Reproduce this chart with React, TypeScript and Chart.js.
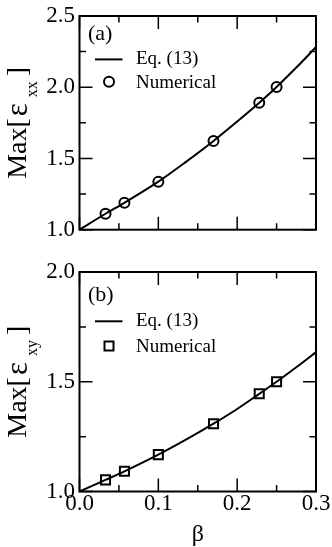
import React, { useEffect, useRef } from "react";
import { Chart, registerables } from "chart.js";

Chart.register(...registerables);

// ---------------- data ----------------
const betaTicks = [0, 0.1, 0.2, 0.3];
const betaMinorTicks = [0.05, 0.15, 0.25];

const numBeta = [0.033, 0.057, 0.1, 0.17, 0.228, 0.25];
const numXX = [1.112, 1.189, 1.337, 1.623, 1.891, 2.002];
const numXY = [1.053, 1.092, 1.168, 1.309, 1.445, 1.5];

const eqBeta = [0, 0.033, 0.057, 0.1, 0.135, 0.17, 0.2, 0.228, 0.25, 0.275, 0.3];
const eqXX = [1.0, 1.112, 1.189, 1.337, 1.476, 1.623, 1.759, 1.891, 2.002, 2.138, 2.282];
const eqXY = [1.0, 1.053, 1.092, 1.168, 1.236, 1.309, 1.376, 1.445, 1.5, 1.566, 1.635];

const yTicksA = [1.0, 1.5, 2.0, 2.5];
const yMinorA = [1.25, 1.75, 2.25];
const yTicksB = [1.0, 1.5, 2.0];
const yMinorB = [1.25, 1.75];

const legendLabels = ["Eq. (13)", "Numerical"];
const panelLabels = ["(a)", "(b)"];
const xTitle = "β";

const SERIF = '"Liberation Serif", "Times New Roman", serif';

type Panel = {
  yMin: number;
  yMax: number;
  yMajor: number[];
  yMinor: number[];
  eq: number[];
  num: number[];
  sub: string;
  label: string;
  marker: "circle" | "rect";
  canvasTop: number;
  canvasH: number;
  padTop: number;
  padBottom: number;
  xAxisH: number;
  showX: boolean;
  legend: { labelY: number; lineY: number; markerY: number };
};

const panels: Panel[] = [
  {
    yMin: 1.0,
    yMax: 2.5,
    yMajor: yTicksA,
    yMinor: yMinorA,
    eq: eqXX,
    num: numXX,
    sub: "xx",
    label: panelLabels[0],
    marker: "circle",
    canvasTop: 0,
    canvasH: 250,
    padTop: 9.3,
    padBottom: 20.3,
    xAxisH: 0,
    showX: false,
    legend: { labelY: 24.2, lineY: 43.4, markerY: 65.7 },
  },
  {
    yMin: 1.0,
    yMax: 2.0,
    yMajor: yTicksB,
    yMinor: yMinorB,
    eq: eqXY,
    num: numXY,
    sub: "xy",
    label: panelLabels[1],
    marker: "rect",
    canvasTop: 250,
    canvasH: 297,
    padTop: 22,
    padBottom: 0,
    xAxisH: 55.5,
    showX: true,
    legend: { labelY: 29, lineY: 49.3, markerY: 74 },
  },
];

function drawYTitle(ctx: CanvasRenderingContext2D, cx: number, cy: number, sub: string) {
  ctx.save();
  ctx.translate(cx, cy);
  ctx.rotate(-Math.PI / 2);
  ctx.fillStyle = "#000";
  ctx.textAlign = "left";
  ctx.textBaseline = "alphabetic";
  const parts = [
    { t: "Max[", f: `28px ${SERIF}`, dy: 0, gap: 2 },
    { t: "ε", f: `31px ${SERIF}`, dy: 1, gap: 6 },
    { t: sub, f: `16px ${SERIF}`, dy: 10.5, gap: 5 },
    { t: "]", f: `28px ${SERIF}`, dy: 0, gap: 0 },
  ];
  let total = 0;
  const widths = parts.map((p) => {
    ctx.font = p.f;
    const w = ctx.measureText(p.t).width;
    total += w + p.gap;
    return w;
  });
  let x = -total / 2;
  parts.forEach((p, i) => {
    ctx.font = p.f;
    ctx.fillText(p.t, x, p.dy);
    x += widths[i] + p.gap;
  });
  ctx.restore();
}

function makeDecor(panel: Panel) {
  return {
    id: "decor",
    afterDraw(chart: any) {
      const ctx: CanvasRenderingContext2D = chart.ctx;
      const { left, right, top, bottom } = chart.chartArea;
      const xs = chart.scales.x;
      const ys = chart.scales.y;
      ctx.save();
      ctx.strokeStyle = "#000";
      ctx.fillStyle = "#000";

      // inside ticks
      ctx.lineWidth = 1.5;
      ctx.beginPath();
      const major = 13;
      const minor = 6.5;
      betaTicks.forEach((v) => {
        const px = xs.getPixelForValue(v);
        ctx.moveTo(px, bottom);
        ctx.lineTo(px, bottom - major);
        ctx.moveTo(px, top);
        ctx.lineTo(px, top + major);
      });
      betaMinorTicks.forEach((v) => {
        const px = xs.getPixelForValue(v);
        ctx.moveTo(px, bottom);
        ctx.lineTo(px, bottom - minor);
        ctx.moveTo(px, top);
        ctx.lineTo(px, top + minor);
      });
      panel.yMajor.forEach((v) => {
        const py = ys.getPixelForValue(v);
        ctx.moveTo(left, py);
        ctx.lineTo(left + major, py);
        ctx.moveTo(right, py);
        ctx.lineTo(right - major, py);
      });
      panel.yMinor.forEach((v) => {
        const py = ys.getPixelForValue(v);
        ctx.moveTo(left, py);
        ctx.lineTo(left + minor, py);
        ctx.moveTo(right, py);
        ctx.lineTo(right - minor, py);
      });
      ctx.stroke();

      // frame
      ctx.lineWidth = 2;
      ctx.strokeRect(left, top, right - left, bottom - top);

      // panel label
      ctx.font = `22px ${SERIF}`;
      ctx.textAlign = "left";
      ctx.textBaseline = "alphabetic";
      ctx.fillText(panel.label, left + 8.5, top + panel.legend.labelY);

      // legend
      const lg = panel.legend;
      ctx.lineWidth = 2;
      ctx.beginPath();
      ctx.moveTo(left + 15.5, top + lg.lineY);
      ctx.lineTo(left + 43, top + lg.lineY);
      ctx.stroke();
      const mx = left + 29.5;
      const my = top + lg.markerY;
      ctx.beginPath();
      if (panel.marker === "circle") {
        ctx.arc(mx, my, 5, 0, Math.PI * 2);
      } else {
        ctx.rect(mx - 4.5, my - 4.5, 9, 9);
      }
      ctx.stroke();
      ctx.font = `19px ${SERIF}`;
      ctx.fillText(legendLabels[0], left + 56.5, top + lg.lineY + 5);
      ctx.fillText(legendLabels[1], left + 56.5, top + lg.markerY + 6);

      // y title
      drawYTitle(ctx, 26, (top + bottom) / 2, panel.sub);

      // x title
      if (panel.showX) {
        ctx.font = `24px ${SERIF}`;
        ctx.textAlign = "center";
        ctx.textBaseline = "alphabetic";
        ctx.fillText(xTitle, (left + right) / 2, chart.height - 6);
      }
      ctx.restore();
    },
  };
}

function buildChart(canvas: HTMLCanvasElement, panel: Panel) {
  const curve = eqBeta.map((b, i) => ({ x: b, y: panel.eq[i] }));
  const pts = numBeta.map((b, i) => ({ x: b, y: panel.num[i] }));
  return new Chart(canvas, {
    type: "scatter",
    data: {
      datasets: [
        {
          label: legendLabels[0],
          data: curve,
          showLine: true,
          borderColor: "#000",
          borderWidth: 2,
          pointRadius: 0,
          cubicInterpolationMode: "monotone",
          order: 2,
        } as any,
        {
          label: legendLabels[1],
          data: pts,
          showLine: false,
          pointStyle: panel.marker,
          pointRadius: panel.marker === "circle" ? 5 : 6.4,
          pointBorderWidth: 2,
          pointBorderColor: "#000",
          pointBackgroundColor: "rgba(0,0,0,0)",
          borderColor: "#000",
          order: 1,
        } as any,
      ],
    },
    options: {
      responsive: false,
      animation: false,
      devicePixelRatio: 1,
      events: [],
      layout: {
        autoPadding: false,
        padding: { left: 0, right: 16, top: panel.padTop, bottom: panel.padBottom },
      } as any,
      plugins: {
        legend: { display: false },
        tooltip: { enabled: false },
      },
      scales: {
        x: {
          type: "linear",
          min: 0,
          max: 0.3,
          display: panel.showX,
          grid: { display: false, drawTicks: false },
          border: { display: false },
          ticks: {
            stepSize: 0.1,
            padding: 1,
            color: "#000",
            font: { family: SERIF, size: 23, lineHeight: 1 },
            maxRotation: 0,
            autoSkip: false,
            callback: (v: any) => Number(v).toFixed(1),
          },
          afterFit: (scale: any) => {
            scale.height = panel.xAxisH;
          },
        },
        y: {
          type: "linear",
          min: panel.yMin,
          max: panel.yMax,
          grid: { display: false, drawTicks: false },
          border: { display: false },
          ticks: {
            stepSize: 0.5,
            padding: 4.5,
            color: "#000",
            font: { family: SERIF, size: 23, lineHeight: 1 },
            autoSkip: false,
            callback: (v: any) => Number(v).toFixed(1),
          },
          afterFit: (scale: any) => {
            scale.width = 79.5;
          },
        },
      },
    } as any,
    plugins: [makeDecor(panel)],
  });
}

export default function App() {
  const refA = useRef<HTMLCanvasElement>(null);
  const refB = useRef<HTMLCanvasElement>(null);

  useEffect(() => {
    const charts: Chart[] = [];
    if (refA.current) charts.push(buildChart(refA.current, panels[0]));
    if (refB.current) charts.push(buildChart(refB.current, panels[1]));
    return () => charts.forEach((c) => c.destroy());
  }, []);

  return (
    <div
      style={{
        position: "absolute",
        left: 0,
        top: 0,
        width: 332,
        height: 547,
        background: "#fff",
        overflow: "hidden",
      }}
    >
      <canvas
        ref={refA}
        width={332}
        height={panels[0].canvasH}
        style={{ position: "absolute", left: 0, top: panels[0].canvasTop, width: 332, height: panels[0].canvasH, display: "block" }}
      />
      <canvas
        ref={refB}
        width={332}
        height={panels[1].canvasH}
        style={{ position: "absolute", left: 0, top: panels[1].canvasTop, width: 332, height: panels[1].canvasH, display: "block" }}
      />
    </div>
  );
}
